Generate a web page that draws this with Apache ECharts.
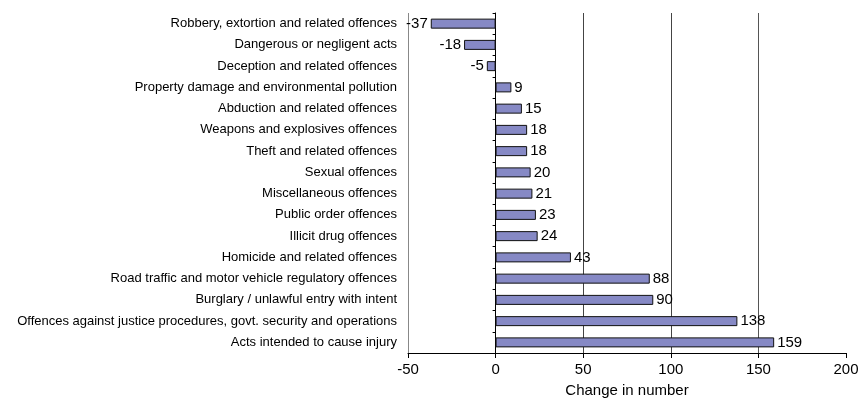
<!DOCTYPE html>
<html><head><meta charset="utf-8">
<script src="https://cdn.jsdelivr.net/npm/echarts@6/dist/echarts.min.js"></script>
<style>html,body{margin:0;padding:0;background:#fff}#c{width:866px;height:403px}</style>
</head><body><div id="c"></div>
<script>
const categories = [
  "Robbery, extortion and related offences",
  "Dangerous or negligent acts",
  "Deception and related offences",
  "Property damage and environmental pollution",
  "Abduction and related offences",
  "Weapons and explosives offences",
  "Theft and related offences",
  "Sexual offences",
  "Miscellaneous offences",
  "Public order offences",
  "Illicit drug offences",
  "Homicide and related offences",
  "Road traffic and motor vehicle regulatory offences",
  "Burglary / unlawful entry with intent",
  "Offences against justice procedures, govt. security and operations",
  "Acts intended to cause injury"
];
const values = [-37, -18, -5, 9, 15, 18, 18, 20, 21, 23, 24, 43, 88, 90, 138, 159];
const xTicks = { min: -50, max: 200, interval: 50 };

const FONT = '"Liberation Sans", Arial, sans-serif';

const chart = echarts.init(document.getElementById('c'), null, {renderer: 'canvas'});
chart.setOption({
  animation: false,
  grid: { left: 408, right: 20, top: 13, bottom: 50, containLabel: false, outerBoundsMode: 'none' },
  xAxis: {
    type: 'value', min: xTicks.min, max: xTicks.max, interval: xTicks.interval,
    name: 'Change in number', nameLocation: 'middle', nameGap: 30,
    nameTextStyle: { fontFamily: FONT, fontSize: 15, color: '#000' },
    axisLine: { show: true, onZero: false, lineStyle: { color: '#000', width: 1 } },
    axisTick: { show: true, length: 5, lineStyle: { color: '#000' } },
    axisLabel: { fontFamily: FONT, fontSize: 15, color: '#000', margin: 9 },
    splitLine: { show: true, lineStyle: { color: ['#888', '#000', '#444', '#444', '#555', 'rgba(0,0,0,0)'], width: 1 } }
  },
  yAxis: [{
    type: 'category', data: categories, inverse: true,
    axisLine: { show: false, onZero: false },
    axisTick: { show: false },
    axisLabel: { fontFamily: FONT, fontSize: 13, color: '#000', margin: 11 },
    splitLine: { show: false }
  }, {
    type: 'category', data: categories, inverse: true, position: 'left',
    axisLine: { show: true, onZero: true, lineStyle: { color: '#000', width: 1 } },
    axisTick: { show: true, length: 3, lineStyle: { color: '#000' } },
    axisLabel: { show: false },
    splitLine: { show: false }
  }],
  series: [{
    type: 'bar', yAxisIndex: 0, barWidth: 10,
    data: values.map(v => v < 0 ? { value: v, label: { position: 'left' } } : v),
    itemStyle: { color: '#8689c5', borderColor: '#111', borderWidth: 1 },
    label: {
      show: true,
      position: 'right',
      distance: 3,
      fontFamily: FONT, fontSize: 15, color: '#000'
    }
  }]
});
</script></body></html>
